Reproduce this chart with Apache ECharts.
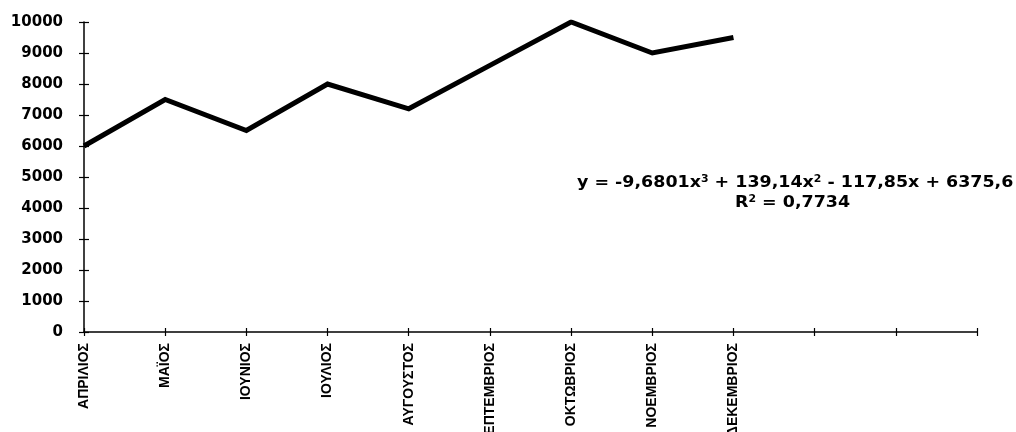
<!DOCTYPE html>
<html>
<head>
<meta charset="utf-8">
<style>
  html, body { margin: 0; padding: 0; background: #fff; }
  #chart { width: 1016px; height: 432px; }
</style>
<script src="https://cdn.jsdelivr.net/npm/echarts@6/dist/echarts.min.js"></script>
</head>
<body>
<div id="chart"></div>
<script>
// Monthly values, April to December; the last three slots on the axis stay empty
const months = ['ΑΠΡΙΛΙΟΣ', 'ΜΑΪΟΣ', 'ΙΟΥΝΙΟΣ', 'ΙΟΥΛΙΟΣ', 'ΑΥΓΟΥΣΤΟΣ', 'ΣΕΠΤΕΜΒΡΙΟΣ', 'ΟΚΤΩΒΡΙΟΣ', 'ΝΟΕΜΒΡΙΟΣ', 'ΔΕΚΕΜΒΡΙΟΣ', '', '', ''];
const values = [6000, 7500, 6500, 8000, 7200, 8600, 10000, 9000, 9500];
const yTicks = { min: 0, max: 10000, interval: 1000 };

// Trend line equation text
const eqLine = '{t|y = -9,6801x}{s|3}{t| + 139,14x}{s|2}{t| - 117,85x + 6375,6}';
const r2Line = '{t|R}{s|2}{t| = 0,7734}';

const FONT = '"DejaVu Sans", Arial, sans-serif';
const NARROW = '"Liberation Sans Narrow", "Liberation Sans", Arial, sans-serif';

const chart = echarts.init(document.getElementById('chart'), null, { renderer: 'canvas' });

const axisLine = { show: true, lineStyle: { color: '#000', width: 1.5 } };
const tickStyle = { color: '#000', width: 1.2 };

chart.setOption({
  animation: false,
  backgroundColor: '#fff',
  grid: { left: 84, right: 39, top: 22, bottom: 100, containLabel: false, outerBoundsMode: 'none' },
  xAxis: [
    {
      type: 'category',
      data: months,
      boundaryGap: false,
      axisLine: axisLine,
      axisTick: { show: true, interval: 0, length: 4, lineStyle: tickStyle },
      axisLabel: {
        interval: 0, rotate: 90, margin: 11,
        fontFamily: NARROW, fontWeight: 'bold', fontSize: 14, color: '#000'
      },
      splitLine: { show: false }
    },
    {
      // inner half of the crossing tick marks on the category axis
      type: 'category',
      data: months,
      boundaryGap: false,
      position: 'bottom',
      axisLine: { show: false },
      axisTick: { show: true, interval: 0, inside: true, length: 4, lineStyle: tickStyle },
      axisLabel: { show: false },
      splitLine: { show: false }
    }
  ],
  yAxis: [
    {
      type: 'value',
      min: yTicks.min, max: yTicks.max, interval: yTicks.interval,
      axisLine: axisLine,
      axisTick: { show: true, length: 5, lineStyle: tickStyle },
      axisLabel: {
        margin: 21, fontFamily: FONT, fontWeight: 'bold', fontSize: 15, color: '#000',
        formatter: v => String(v)
      },
      splitLine: { show: false }
    },
    {
      // inner half of the crossing tick marks on the value axis
      type: 'value',
      min: yTicks.min, max: yTicks.max, interval: yTicks.interval,
      position: 'left',
      axisLine: { show: false },
      axisTick: { show: true, inside: true, length: 5, lineStyle: tickStyle },
      axisLabel: { show: false },
      splitLine: { show: false }
    }
  ],
  series: [
    {
      type: 'line',
      data: values,
      symbol: 'none',
      lineStyle: { color: '#000', width: 5, join: 'miter' },
      z: 3
    }
  ],
  graphic: [
    {
      type: 'text',
      x: 577,
      y: 174,
      scaleX: 1.09,
      style: {
        text: eqLine,
        rich: {
          t: { fontFamily: FONT, fontWeight: 'bold', fontSize: 16, fill: '#000' },
          s: { fontFamily: FONT, fontWeight: 'bold', fontSize: 10, fill: '#000', padding: [0, 0, 8, 0] }
        }
      }
    },
    {
      type: 'text',
      x: 735,
      y: 194,
      scaleX: 1.09,
      style: {
        text: r2Line,
        rich: {
          t: { fontFamily: FONT, fontWeight: 'bold', fontSize: 16, fill: '#000' },
          s: { fontFamily: FONT, fontWeight: 'bold', fontSize: 10, fill: '#000', padding: [0, 0, 8, 0] }
        }
      }
    }
  ]
});
</script>
</body>
</html>
